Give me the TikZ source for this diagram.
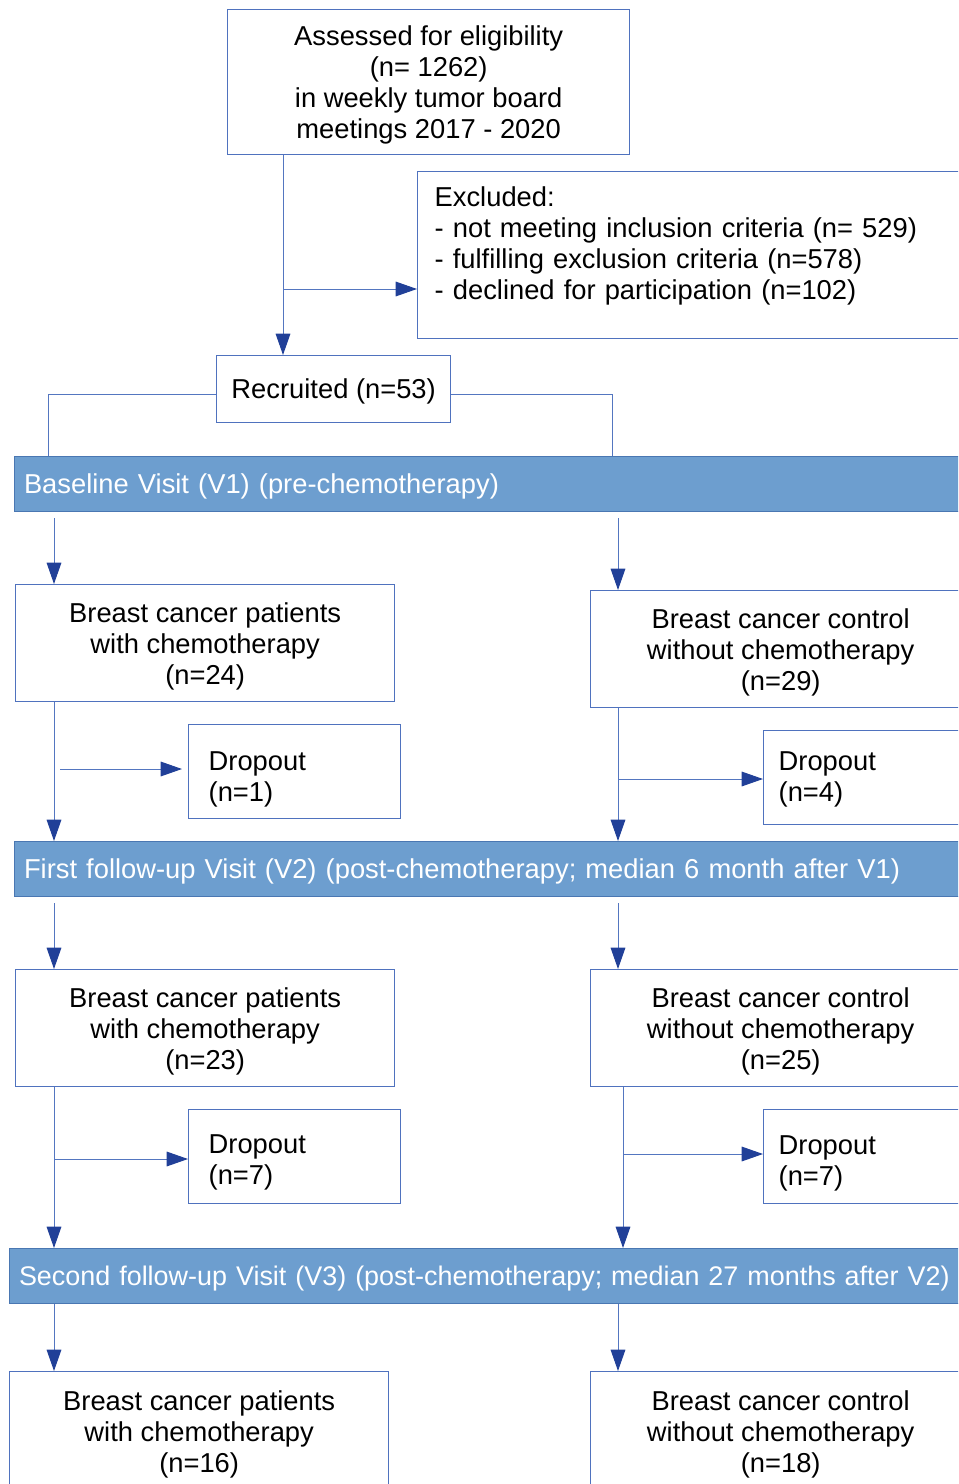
\documentclass[tikz,border=0pt]{standalone}
\usepackage{fontspec}
\setmainfont{Liberation Sans}
\usetikzlibrary{arrows.meta}

\definecolor{boxline}{RGB}{79,114,190}
\definecolor{linkblue}{RGB}{84,118,192}
\definecolor{tipblue}{RGB}{33,64,152}
\definecolor{barfill}{RGB}{109,158,207}
\definecolor{bardraw}{RGB}{74,119,178}

\begin{document}
\begin{tikzpicture}[x=0.75pt,y=0.75pt,yscale=-1,xscale=1,
	every node/.style={font=\fontsize{20.5}{23.25}\selectfont},
	box/.style={draw=boxline, line width=1pt, fill=white, inner sep=0pt, align=center, anchor=north west},
	groupbox/.style={box, minimum height=87.75pt},
	dropbox/.style={box, align=left, minimum height=70.5pt},
	bar/.style={draw=bardraw, line width=1pt, fill=barfill, text=white, align=left, anchor=north west, inner xsep=7pt, inner ysep=0pt, text width=780pt, minimum height=41.25pt},
	link/.style={draw=linkblue, line width=0.75pt},
	conn/.style={link, -{Triangle[length=16pt,width=11pt,color=tipblue]}}]
		\useasboundingbox (0,0) rectangle (958,1484);
		\clip (0,0) rectangle (958,1484);
		
		%Shape: Rectangle [Assessed]
		\node [box, minimum width=301.5pt, minimum height=108.75pt] (assess) at (227,9) {\rule{0pt}{19pt}Assessed for eligibility\\(n= 1262)\\in weekly tumor board\\ meetings 2017 - 2020};
		%Shape: Rectangle [Excluded]
		\node [box, align=left, inner xsep=12.75pt, text width=389.25pt, minimum height=125.25pt] (excl) at (417,171) {\rule{0pt}{19pt}Excluded:\\- not meeting inclusion criteria (n= 529)\\- fulfilling exclusion criteria (n=578)\\- declined for participation (n=102)\rule[-22pt]{0pt}{1pt}};
		%Shape: Rectangle [Recruited]
		\node [box, minimum width=175.5pt, minimum height=50.25pt] (recruit) at (216,355) {\rule{0pt}{18pt}Recruited (n=53)};
		
		% Visit bars
		\node [bar] (base) at (14,456) {\rule{0pt}{18pt}Baseline Visit (V1) (pre-chemotherapy)};
		\node [bar] (follow) at (14,841) {\rule{0pt}{18pt}First follow-up Visit (V2) (post-chemotherapy; median 6 month after V1)};
		\node [bar, font=\fontsize{20.2}{23.25}\selectfont] (second) at (9,1248) {\rule{0pt}{18pt}Second follow-up Visit (V3) (post-chemotherapy; median 27 months after V2)};
		
		% Group boxes V1
		\node [groupbox, minimum width=284.25pt] (chemoA) at (15,584) {\rule{0pt}{19pt}Breast cancer patients\\with chemotherapy\\(n=24)};
		\node [groupbox, minimum width=285pt] (ctrlA) at (590,590) {\rule{0pt}{19pt}Breast cancer control\\without chemotherapy\\(n=29)};
		\node [dropbox, inner xsep=15pt, text width=129pt] (dropA) at (188,724) {\rule{0pt}{25pt}Dropout\\(n=1)};
		\node [dropbox, inner xsep=11.25pt, text width=136.5pt] (dropB) at (763,730) {\rule{0pt}{16pt}Dropout\\(n=4)};
		
		% Group boxes V2
		\node [groupbox, minimum width=284.25pt] (chemoB) at (15,969) {\rule{0pt}{19pt}Breast cancer patients\\with chemotherapy\\(n=23)};
		\node [groupbox, minimum width=285pt] (ctrlB) at (590,969) {\rule{0pt}{19pt}Breast cancer control\\without chemotherapy\\(n=25)};
		\node [dropbox, inner xsep=15pt, text width=129pt] (dropC) at (188,1109) {\rule{0pt}{23pt}Dropout\\(n=7)};
		\node [dropbox, inner xsep=11.25pt, text width=136.5pt] (dropD) at (763,1109) {\rule{0pt}{24pt}Dropout\\(n=7)};
		
		% Group boxes V3
		\node [box, minimum width=284.25pt, minimum height=90pt] (chemoC) at (9,1371) {\rule{0pt}{19pt}Breast cancer patients\\with chemotherapy\\(n=16)};
		\node [box, minimum width=285pt, minimum height=90pt] (ctrlC) at (590,1371) {\rule{0pt}{19pt}Breast cancer control\\without chemotherapy\\(n=18)};
		
		% Helper coordinates
		\coordinate (split) at (283,289);
		\coordinate (lsplit) at (48,394);
		\coordinate (rsplit) at (612,394);
		\coordinate (lcol) at (54,0);
		\coordinate (rcol) at (618,0);
		\coordinate (rcolb) at (623,0);
		\coordinate (lbranchA) at (60,769);
		\coordinate (rbranchA) at (618,779);
		\coordinate (lbranchB) at (54,1159);
		\coordinate (rbranchB) at (623,1154);
		
		% Connection
		\draw [conn] (split |- assess.south) -- (split |- recruit.north);
		\draw [conn] (split) -- (split -| excl.west);
		\draw [link] (recruit.west |- lsplit) -| (base.north -| lsplit);
		\draw [link] (recruit.east |- rsplit) -| (base.north -| rsplit);
		% Connection
		\draw [conn, shorten <=4.5pt] (lcol |- base.south) -- (lcol |- chemoA.north);
		\draw [conn, shorten <=4.5pt] (rcol |- base.south) -- (rcol |- ctrlA.north);
		\draw [conn] (lcol |- chemoA.south) -- (lcol |- follow.north);
		\draw [conn] (rcol |- ctrlA.south) -- (rcol |- follow.north);
		\draw [conn, shorten >=4.5pt] (lbranchA) -- (lbranchA -| dropA.west);
		\draw [conn] (rbranchA) -- (rbranchA -| dropB.west);
		% Connection
		\draw [conn, shorten <=4.5pt] (lcol |- follow.south) -- (lcol |- chemoB.north);
		\draw [conn, shorten <=4.5pt] (rcol |- follow.south) -- (rcol |- ctrlB.north);
		\draw [conn] (lcol |- chemoB.south) -- (lcol |- second.north);
		\draw [conn] (rcolb |- ctrlB.south) -- (rcolb |- second.north);
		\draw [conn] (lbranchB) -- (lbranchB -| dropC.west);
		\draw [conn] (rbranchB) -- (rbranchB -| dropD.west);
		% Connection
		\draw [conn] (lcol |- second.south) -- (lcol |- chemoC.north);
		\draw [conn] (rcol |- second.south) -- (rcol |- ctrlC.north);
	\end{tikzpicture}
\end{document}
